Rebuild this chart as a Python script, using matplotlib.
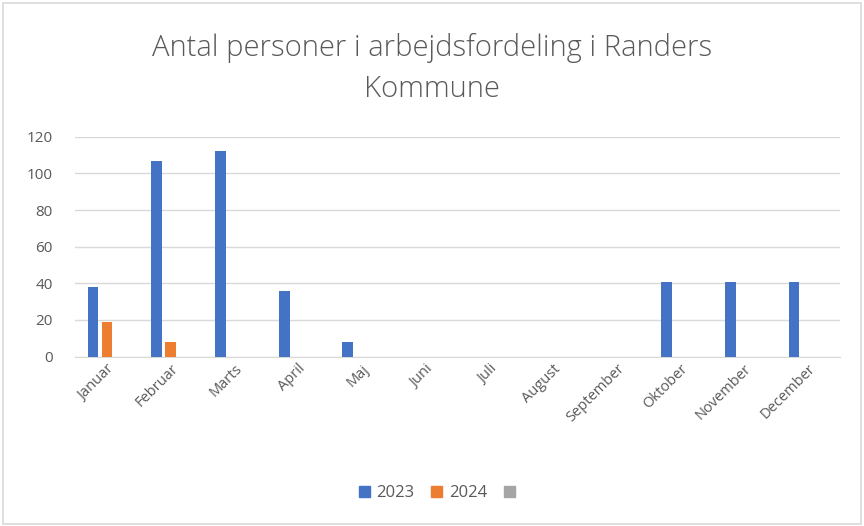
import numpy as np
import matplotlib
matplotlib.use("Agg")
import matplotlib.pyplot as plt
from matplotlib.patches import Rectangle, Patch

maaneder = ["Januar", "Februar", "Marts", "April", "Maj", "Juni", "Juli",
            "August", "September", "Oktober", "November", "December"]
v2023 = [38, 107, 112, 36, 8, 0, 0, 0, 0, 41, 41, 41]
v2024 = [19, 8, 0, 0, 0, 0, 0, 0, 0, 0, 0, 0]
v_tom = [0] * 12
serier = ["2023", "2024", " "]
farver = ["#4472C4", "#ED7D31", "#A5A5A5"]

plt.rcParams["font.family"] = ["Open Sans", "DejaVu Sans"]

fig = plt.figure(figsize=(8.64, 5.26), dpi=100)
fig.patches.append(Rectangle((0.004, 0.004), 0.992, 0.99, transform=fig.transFigure,
                             fill=False, edgecolor="#d9d9d9", lw=1.2))
ax = fig.add_axes([0.087, 0.322, 0.885, 0.418])

x = np.arange(len(maaneder))
w = 0.17
for j, (vals, f) in enumerate(zip([v2023, v2024, v_tom], farver)):
    ax.bar(x + (j - 1) * (w + 0.05), vals, w, color=f, zorder=3)

ax.set_xlim(-0.5, 11.5)
ax.set_ylim(0, 120)
ax.set_yticks(range(0, 121, 20))
ax.grid(axis="y", color="#d9d9d9", lw=1, zorder=0)
for s in ["top", "right", "left"]:
    ax.spines[s].set_visible(False)
ax.spines["bottom"].set_color("#d9d9d9")
ax.tick_params(length=0, colors="#595959", labelsize=10.5)
ax.tick_params(axis="y", pad=16, labelsize=11)
ax.set_xticks(x)
ax.set_xticklabels(maaneder, rotation=45, ha="right", rotation_mode="anchor")

fig.text(0.5, 0.908, "Antal personer i arbejdsfordeling i Randers", ha="center",
         va="center", fontsize=21, color="#595959", fontweight="light")
fig.text(0.5, 0.83, "Kommune", ha="center", va="center", fontsize=21,
         color="#595959", fontweight="light")

handles = [Patch(color=f, label=n) for f, n in zip(farver, serier)]
leg = fig.legend(handles=handles, loc="center", bbox_to_anchor=(0.512, 0.062), ncol=3,
                 frameon=False, fontsize=12, handlelength=0.65, handleheight=0.65,
                 columnspacing=1.0, handletextpad=0.4)
for t in leg.get_texts():
    t.set_color("#595959")

fig.savefig("out.png", dpi=100, facecolor="white")
